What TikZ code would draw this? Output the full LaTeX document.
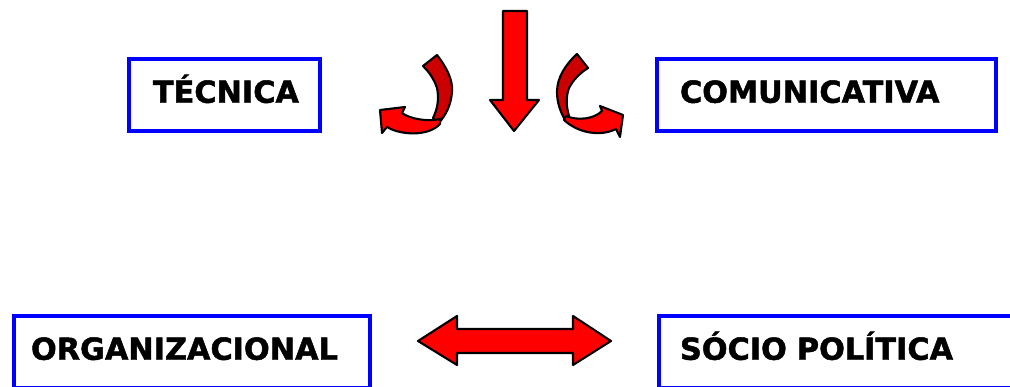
\documentclass[tikz,border=0pt]{standalone}
\usepackage{fontspec}
\setmainfont{DejaVu Sans}
\newfontfamily\boxfont{DejaVu Sans Bold}[FakeBold=1.6]
\usepackage{xcolor}
\usepackage{tikz}
\definecolor{boxblue}{RGB}{0,0,255}
\definecolor{arrowred}{RGB}{255,0,0}
\definecolor{darkred}{RGB}{204,0,0}

\tikzset{
  catbox/.style={draw=boxblue, line width=4pt, minimum height=72pt, align=left,
    text height=21.5pt, text depth=6pt, font=\fontsize{30.3}{32}\boxfont},
  blockarrow/.style={draw=black, line width=2.1pt, line join=round, fill=arrowred},
  backface/.style={blockarrow, fill=darkred},
}

\begin{document}
\begin{tikzpicture}[x=1pt, y=-1pt]
\useasboundingbox (0,0) rectangle (1010,387);

\node (tecnica) [catbox, inner xsep=24pt, text width=143pt] at (224.5,95) {TÉCNICA};
\node (comunic) [catbox, inner xsep=23pt, text width=293pt] at (826.5,95) {COMUNICATIVA};
\node (organiz) [catbox, inner xsep=17pt, text width=322pt] at (192,352) {ORGANIZACIONAL};
\node (sociopol) [catbox, inner xsep=21pt, text width=314pt] at (837,352) {SÓCIO POLÍTICA};

\draw[blockarrow] (503,11) -- (527,11) -- (527,100) -- (539,100) -- (514,131)
  -- (490,100) -- (503,100) -- cycle;

\draw[backface] (437,55) .. controls (447,68) and (453,80) .. (452,92)
  .. controls (451,105) and (446,115) .. (438,124) -- (433,118)
  .. controls (438,108) and (439,98) .. (437,88)
  .. controls (434,79) and (429,72) .. (423,66) -- cycle;
\draw[blockarrow] (440,119) .. controls (428,122) and (410,119) .. (402,113)
  -- (405,107) -- (380,110) -- (382,133) -- (387,127)
  .. controls (400,135) and (428,137) .. (440,124) -- cycle;

\draw[backface] (577,54) .. controls (565,65) and (557,78) .. (557,92)
  .. controls (557,102) and (560,111) .. (565,120) -- (569,116)
  .. controls (566,106) and (566,96) .. (569,88)
  .. controls (573,80) and (580,73) .. (588,68) -- cycle;
\draw[blockarrow] (566,116) .. controls (578,121) and (594,119) .. (602,111)
  -- (600,106) -- (623,115) -- (620,137) -- (616,129)
  .. controls (600,137) and (578,133) .. (564,120) -- cycle;

\draw[blockarrow] (418,341) -- (457,316) -- (457,329) -- (573,329) -- (573,316)
  -- (611,341) -- (573,365) -- (573,353) -- (457,353) -- (457,365) -- cycle;
\end{tikzpicture}
\end{document}
